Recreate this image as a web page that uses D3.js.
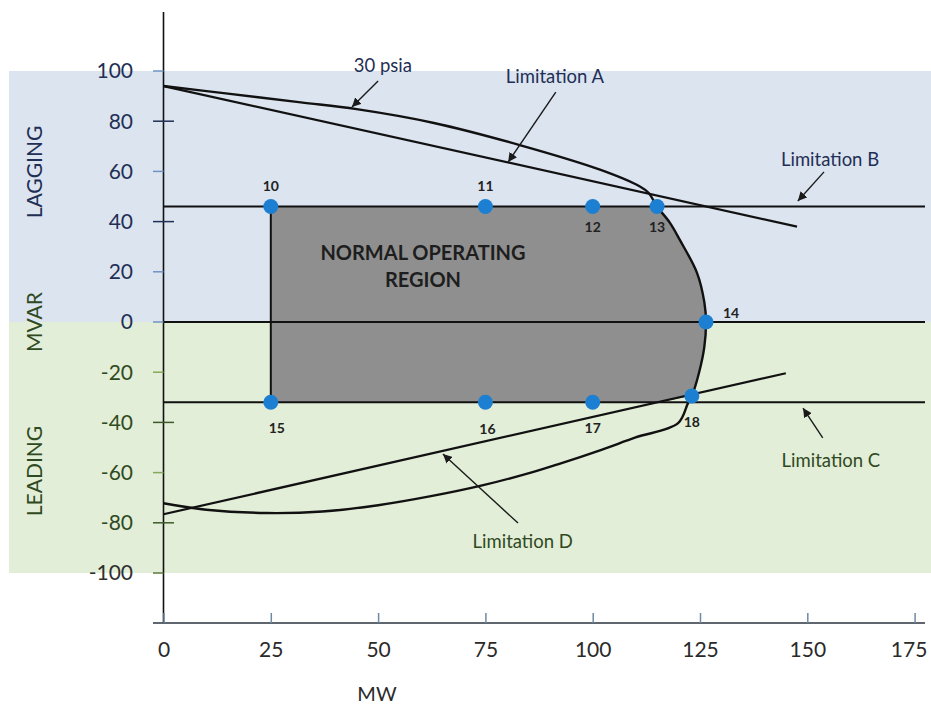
<!DOCTYPE html>
<html>
<head>
<meta charset="utf-8">
<script src="https://cdn.jsdelivr.net/npm/d3@7/dist/d3.min.js"></script>
<style>
  body { margin: 0; background: #fff; }
  svg { font-family: Lato, "Open Sans", sans-serif; }
</style>
</head>
<body>
<svg width="931" height="708"></svg>
<script>
/**********************
 Data
**********************/
var mwTicks = [0, 25, 50, 75, 100, 125, 150, 175];
var mvarTicks = [100, 80, 60, 40, 20, 0, -20, -40, -60, -80, -100];
var crossTicks = [80, 40, -40, -80];

// 30 psia capability curve (MW, MVAR)
var psiaCurve = [
  [0, 94], [15, 91], [32, 87.5], [45, 84.8], [63, 79.3], [83, 70.5],
  [101.7, 60.7], [111, 54], [113, 51.5], [115, 46], [118, 39.5],
  [120.3, 32.7], [124.3, 19.6], [126, 8], [126.4, 0], [126, -10],
  [124.8, -20], [123.1, -29.5], [122.2, -32.3], [119.9, -40.3],
  [110, -46], [101.7, -51.1], [92.4, -56.4], [86, -59.8], [74.5, -65],
  [62, -69.5], [50, -73], [37, -75.5], [24, -76.1], [10, -74.8], [0, -72.2]
];
var limitA = [[0, 94], [147.6, 38]];
var limitD = [[0, -76.6], [145, -20.4]];
var limitB = 46;
var limitC = -32;
var minMW = 25;

var opPoints = [
  {id: 10, mw: 25, mvar: 46}, {id: 11, mw: 75, mvar: 46},
  {id: 12, mw: 100, mvar: 46}, {id: 13, mw: 115, mvar: 46},
  {id: 14, mw: 126.4, mvar: 0}, {id: 15, mw: 25, mvar: -32},
  {id: 16, mw: 75, mvar: -32}, {id: 17, mw: 100, mvar: -32},
  {id: 18, mw: 123.1, mvar: -29.5}
];

// annotations: text anchor, arrow tail, arrow tip (MW, MVAR)
var notes = [
  {text: '30 psia', at: [51.1, 102], from: [50, 96], to: [43.9, 85.7], zone: 'lag'},
  {text: 'Limitation A', at: [91.2, 97.6], from: [91.4, 91.6], to: [80.3, 63.7], zone: 'lag'},
  {text: 'Limitation B', at: [155.3, 64.9], from: [153.9, 59.8], to: [147.8, 48.2], zone: 'lag'},
  {text: 'Limitation C', at: [155.5, -55], from: [153.6, -46.2], to: [149, -34.3], zone: 'lead'},
  {text: 'Limitation D', at: [83.7, -87.3], from: [82.6, -80.1], to: [65.1, -52.6], zone: 'lead'}
];

/**********************
 Layout
**********************/
var svg = d3.select('svg');
var x = d3.scaleLinear().domain([0, 175]).range([163.5, 914.6]);
var y = d3.scaleLinear().domain([-100, 100]).range([573, 71]);

var navy = '#1f2f55', green = '#2f4a22';

var defs = svg.append('defs');
defs.append('marker')
    .attr('id', 'arr')
    .attr('viewBox', '0 0 10 10')
    .attr('refX', 10).attr('refY', 5)
    .attr('markerWidth', 6.5).attr('markerHeight', 6.5)
    .attr('orient', 'auto')
  .append('path')
    .attr('d', 'M0,0L10,5L0,10z')
    .attr('fill', '#1a1a1a');

// background bands
svg.append('rect')
    .attr('x', 9).attr('y', y(100))
    .attr('width', 922).attr('height', y(0) - y(100))
    .attr('fill', '#dce4f0');
svg.append('rect')
    .attr('x', 9).attr('y', y(0))
    .attr('width', 922).attr('height', y(-100) - y(0))
    .attr('fill', '#e3eed8');

// grey normal operating region
var dSlope = (limitD[1][1] - limitD[0][1]) / (limitD[1][0] - limitD[0][0]);
var dAtC = (limitC - limitD[0][1]) / dSlope;
var rightEdge = psiaCurve.filter(function(d) {
  return d[0] >= 115 && d[1] <= limitB && d[1] >= -29.6;
});
var region = [[minMW, limitB]].concat(rightEdge, [[dAtC, limitC], [minMW, limitC]]);
svg.append('path')
    .datum(region)
    .attr('d', d3.line().x(function(d) { return x(d[0]); }).y(function(d) { return y(d[1]); }).curve(d3.curveLinearClosed))
    .attr('fill', '#8f8f8f');

var line = d3.line()
    .x(function(d) { return x(d[0]); })
    .y(function(d) { return y(d[1]); });

// horizontal limit lines
[limitB, 0, limitC].forEach(function(v) {
  svg.append('line')
      .attr('x1', x(0)).attr('x2', 925)
      .attr('y1', y(v)).attr('y2', y(v))
      .attr('stroke', '#111').attr('stroke-width', 2);
});
svg.append('line')
    .attr('x1', x(minMW)).attr('x2', x(minMW))
    .attr('y1', y(limitB)).attr('y2', y(limitC))
    .attr('stroke', '#111').attr('stroke-width', 2);

svg.append('path').datum(limitA).attr('d', line)
    .attr('fill', 'none').attr('stroke', '#111').attr('stroke-width', 2.2);
svg.append('path').datum(limitD).attr('d', line)
    .attr('fill', 'none').attr('stroke', '#111').attr('stroke-width', 2.2);
svg.append('path').datum(psiaCurve)
    .attr('d', line.curve(d3.curveCatmullRom.alpha(0.5)))
    .attr('fill', 'none').attr('stroke', '#111').attr('stroke-width', 2.4);

/**********************
 Axes
**********************/
// y axis
svg.append('line')
    .attr('x1', x(0)).attr('x2', x(0))
    .attr('y1', 12).attr('y2', 623)
    .attr('stroke', '#111').attr('stroke-width', 1.6);

var yTicks = svg.append('g').selectAll('g')
    .data(mvarTicks).enter().append('g')
    .attr('transform', function(d) { return 'translate(0,' + y(d) + ')'; });
yTicks.append('line')
    .attr('x1', x(0) - 10.5)
    .attr('x2', function(d) { return crossTicks.indexOf(d) >= 0 ? x(0) + 10.5 : x(0); })
    .attr('stroke', function(d) {
      if (crossTicks.indexOf(d) >= 0) return d > 0 ? '#1f2f55' : '#3d5a2a';
      if (d === -100) return '#5b7a3c';
      return d >= 0 ? '#6f93c4' : '#86a85a';
    })
    .attr('stroke-width', 1.5);
yTicks.append('text')
    .attr('x', 133)
    .attr('dy', '0.35em')
    .attr('text-anchor', 'end')
    .attr('font-size', 21)
    .attr('fill', function(d) { return d >= 0 ? navy : (d === -100 ? '#2f2f2f' : green); })
    .text(function(d) { return d; });

// x axis
var xAxisG = svg.append('g')
    .attr('transform', 'translate(0,623)')
    .call(d3.axisBottom(x).tickValues(mwTicks).tickSizeInner(-10).tickSizeOuter(0));
xAxisG.select('.domain').remove();
xAxisG.insert('line', ':first-child')
    .attr('x1', 153).attr('x2', 925)
    .attr('stroke', '#2a3340').attr('stroke-width', 1.4);
xAxisG.selectAll('.tick line').attr('stroke', '#6d8aa6').attr('stroke-width', 1.5);
xAxisG.selectAll('.tick text')
    .attr('y', 34).attr('dy', 0)
    .attr('x', function(d) { return d === 175 ? -6 : 0; })
    .attr('font-size', 21)
    .attr('font-family', 'Lato, sans-serif')
    .attr('fill', '#2a2a2a');

svg.append('text')
    .attr('x', 377).attr('y', 701)
    .attr('text-anchor', 'middle')
    .attr('font-size', 20).attr('fill', '#2a2a2a')
    .text('MW');

// side labels
[['LAGGING', 172, navy], ['MVAR', 322, green], ['LEADING', 471, green]].forEach(function(s) {
  svg.append('text')
      .attr('transform', 'translate(35,' + s[1] + ') rotate(-90)')
      .attr('dy', '0.35em')
      .attr('text-anchor', 'middle')
      .attr('font-size', 21)
      .attr('fill', s[2])
      .text(s[0]);
});

/**********************
 Region text, points, notes
**********************/
svg.append('text')
    .attr('x', 423).attr('y', 253).attr('dy', '0.35em')
    .attr('text-anchor', 'middle')
    .attr('font-size', 20).attr('font-weight', 'bold').attr('fill', '#1e1e1e')
    .text('NORMAL OPERATING');
svg.append('text')
    .attr('x', 423).attr('y', 280).attr('dy', '0.35em')
    .attr('text-anchor', 'middle')
    .attr('font-size', 20).attr('font-weight', 'bold').attr('fill', '#1e1e1e')
    .text('REGION');

var labelOffset = {
  10: [0, -20], 11: [0, -20], 12: [0, 21], 13: [0, 21], 14: [25, -9],
  15: [6, 26], 16: [2, 27], 17: [0, 26], 18: [0, 26]
};

svg.selectAll('.pt')
    .data(opPoints).enter().append('circle')
    .attr('class', 'pt')
    .attr('cx', function(d) { return x(d.mw); })
    .attr('cy', function(d) { return y(d.mvar); })
    .attr('r', 7.5)
    .attr('fill', '#1c7fd2');

svg.selectAll('.pt-label')
    .data(opPoints).enter().append('text')
    .attr('class', 'pt-label')
    .attr('x', function(d) { return x(d.mw) + labelOffset[d.id][0]; })
    .attr('y', function(d) { return y(d.mvar) + labelOffset[d.id][1]; })
    .attr('dy', '0.35em')
    .attr('text-anchor', 'middle')
    .attr('font-size', 14).attr('font-weight', 'bold').attr('fill', '#222')
    .text(function(d) { return d.id; });

notes.forEach(function(n) {
  svg.append('line')
      .attr('x1', x(n.from[0])).attr('y1', y(n.from[1]))
      .attr('x2', x(n.to[0])).attr('y2', y(n.to[1]))
      .attr('stroke', '#1a1a1a').attr('stroke-width', 1.4)
      .attr('marker-end', 'url(#arr)');
  svg.append('text')
      .attr('x', x(n.at[0])).attr('y', y(n.at[1]))
      .attr('dy', '0.35em')
      .attr('text-anchor', 'middle')
      .attr('font-size', 18.5)
      .attr('fill', n.zone === 'lag' ? navy : green)
      .text(n.text);
});
</script>
</body>
</html>
